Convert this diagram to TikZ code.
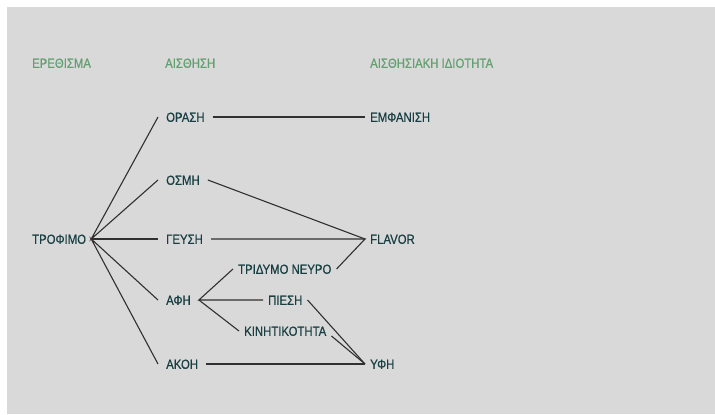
\documentclass[tikz,border=0pt]{standalone}
\usepackage{fontspec}
\setmainfont{Liberation Sans}[FakeStretch=0.86,FakeBold=0.5]
\definecolor{bg}{HTML}{D9D9D9}
\definecolor{ttl}{HTML}{62A070}
\definecolor{txt}{HTML}{173E43}
\definecolor{ln}{HTML}{303030}
\begin{document}
\begin{tikzpicture}[x=1pt,y=-1pt,
  lbl/.style={anchor=west,inner xsep=5pt,inner ysep=0pt,text height=9.6pt,text depth=0pt,font=\fontsize{13.2}{14}\selectfont,text=txt},
  ttlbl/.style={lbl,text=ttl},
  con/.style={draw=ln,line width=1.1pt}]
\useasboundingbox (0,0) rectangle (715,415);
\fill[white] (0,0) rectangle (715,415);
\fill[bg] (7,7) rectangle (715,414);
% titles
\node[ttlbl] (t1) at (27,63) {ΕΡΕΘΙΣΜΑ};
\node[ttlbl] (t2) at (160,63) {ΑΙΣΘΗΣΗ};
\node[ttlbl] (t3) at (365,63) {ΑΙΣΘΗΣΙΑΚΗ ΙΔΙΟΤΗΤΑ};
% nodes
\node[lbl] (tro) at (27,239) {ΤΡΟΦΙΜΟ};
\node[lbl,inner xsep=8pt] (ora) at (158,117) {ΟΡΑΣΗ};
\node[lbl,inner xsep=8pt] (osm) at (158,180) {ΟΣΜΗ};
\node[lbl,inner xsep=8pt] (gef) at (158,239) {ΓΕΥΣΗ};
\node[lbl,inner xsep=8pt] (afi) at (158,300) {ΑΦΗ};
\node[lbl,inner xsep=8pt] (ako) at (158,364) {ΑΚΟΗ};
\node[lbl] (emf) at (365,117) {ΕΜΦΑΝΙΣΗ};
\node[lbl] (fla) at (365,239) {FLAVOR};
\node[lbl] (yfi) at (365,364) {ΥΦΗ};
\node[lbl] (tri) at (233,269) {ΤΡΙΔΥΜΟ ΝΕΥΡΟ};
\node[lbl] (pie) at (263,300) {ΠΙΕΣΗ};
\node[lbl] (kin) at (239,331) {ΚΙΝΗΤΙΚΟΤΗΤΑ};
% connectors
\draw[con] (ora.west) -- (tro.east) -- (osm.west);
\draw[con] (tro.east) -- (gef.west);
\draw[con] (afi.west) -- (tro.east) -- (ako.west);
\draw[con] (ora.east) -- (emf.west);
\draw[con] (osm.east) -- (fla.west);
\draw[con] (gef.east) -- (fla.west) -- (tri.east);
\draw[con] (tri.west) -- (afi.east) -- (pie.west);
\draw[con] (afi.east) -- (kin.west);
\draw[con] (pie.east) -- (yfi.west);
\draw[con] (kin.south east) -- (yfi.west);
\draw[con] (ako.east) -- (yfi.west);
\end{tikzpicture}
\end{document}
